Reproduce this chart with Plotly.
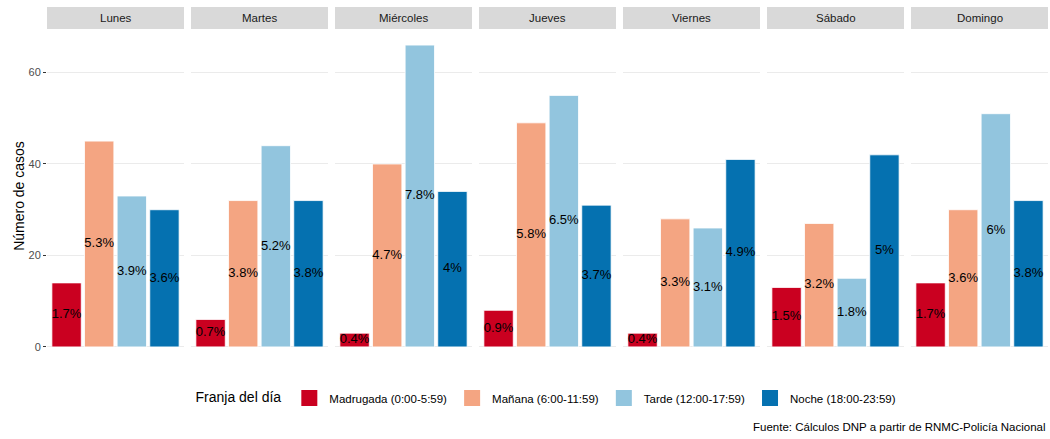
import plotly.graph_objects as go
from plotly.subplots import make_subplots

dias = ["Lunes", "Martes", "Miércoles", "Jueves", "Viernes", "Sábado", "Domingo"]
franjas = ["Madrugada (0:00-5:59)", "Mañana (6:00-11:59)", "Tarde (12:00-17:59)", "Noche (18:00-23:59)"]
colores = ["#CA0020", "#F4A582", "#92C5DE", "#0571B0"]

# casos[dia] = [madrugada, mañana, tarde, noche]
casos = {
    "Lunes":     [14, 45, 33, 30],
    "Martes":    [6, 32, 44, 32],
    "Miércoles": [3, 40, 66, 34],
    "Jueves":    [8, 49, 55, 31],
    "Viernes":   [3, 28, 26, 41],
    "Sábado":    [13, 27, 15, 42],
    "Domingo":   [14, 30, 51, 32],
}
porcentajes = {
    "Lunes":     ["1.7%", "5.3%", "3.9%", "3.6%"],
    "Martes":    ["0.7%", "3.8%", "5.2%", "3.8%"],
    "Miércoles": ["0.4%", "4.7%", "7.8%", "4%"],
    "Jueves":    ["0.9%", "5.8%", "6.5%", "3.7%"],
    "Viernes":   ["0.4%", "3.3%", "3.1%", "4.9%"],
    "Sábado":    ["1.5%", "3.2%", "1.8%", "5%"],
    "Domingo":   ["1.7%", "3.6%", "6%", "3.8%"],
}
y_ticks = [0, 20, 40, 60]

FONT = "Liberation Sans, Arial, sans-serif"
W, H = 1050, 439
ML, MR, MT, MB = 47, 2, 30, 77
plot_w = W - ML - MR
plot_h = H - MT - MB

fig = make_subplots(rows=1, cols=7, shared_yaxes=True, horizontal_spacing=7 / plot_w)

pos = [1, 2, 3, 4]
for c, dia in enumerate(dias, start=1):
    for k in range(4):
        fig.add_trace(go.Bar(
            x=[pos[k]], y=[casos[dia][k]], width=0.9,
            marker=dict(color=colores[k], line=dict(color="white", width=0.8)),
            name=franjas[k], legendgroup=franjas[k], showlegend=False,
            hoverinfo="skip",
        ), row=1, col=c)
    fig.add_trace(go.Scatter(
        x=pos, y=[v / 2 for v in casos[dia]], mode="text",
        text=porcentajes[dia], textfont=dict(size=13, color="black", family=FONT),
        showlegend=False, hoverinfo="skip",
    ), row=1, col=c)

# legend entries (square keys)
for k in range(4):
    fig.add_trace(go.Scatter(
        x=[None], y=[None], mode="markers", name=franjas[k], legendgroup=franjas[k],
        marker=dict(symbol="square", size=16, color=colores[k]),
        showlegend=True, hoverinfo="skip",
    ), row=1, col=1)

fig.update_xaxes(range=[0.4, 4.6], showticklabels=False, showgrid=False, zeroline=False,
                 ticks="", showline=False)
fig.update_yaxes(range=[-3.3, 69.3], tickvals=y_ticks, showgrid=True, gridcolor="#EBEBEB",
                 gridwidth=1, zeroline=False, showline=False)
fig.update_yaxes(ticks="outside", ticklen=3, tickcolor="#333333",
                 tickfont=dict(size=11, color="#4D4D4D", family=FONT),
                 title=dict(text="Número de casos", font=dict(size=14, color="black", family=FONT), standoff=0),
                 row=1, col=1)

shapes = []
annotations = []
for c, dia in enumerate(dias, start=1):
    xa = fig.layout["xaxis" if c == 1 else f"xaxis{c}"]
    d0, d1 = xa.domain
    shapes.append(dict(type="rect", xref="paper", yref="paper", x0=d0, x1=d1,
                       y0=1 + 1 / plot_h, y1=1 + 23 / plot_h,
                       fillcolor="#D9D9D9", line=dict(width=0), layer="below"))
    annotations.append(dict(text=dia, xref="paper", yref="paper", x=(d0 + d1) / 2,
                            y=1 + 12 / plot_h, showarrow=False, xanchor="center", yanchor="middle",
                            font=dict(size=11.5, color="#1A1A1A", family=FONT)))

annotations.append(dict(text="Fuente: Cálculos DNP a partir de RNMC-Policía Nacional",
                        xref="paper", yref="paper", x=1.0, y=(-(427 - (H - MB))) / plot_h,
                        xanchor="right", yanchor="middle", showarrow=False,
                        font=dict(size=11.5, color="black", family=FONT)))

fig.update_layout(
    width=W, height=H,
    margin=dict(l=ML, r=MR, t=MT, b=MB),
    paper_bgcolor="white", plot_bgcolor="white",
    font=dict(family=FONT),
    barmode="overlay",
    shapes=shapes, annotations=annotations,
    legend=dict(orientation="h", x=0.5, xanchor="center",
                y=(-(398 - (H - MB))) / plot_h, yanchor="middle",
                title=dict(text="Franja del día", font=dict(size=14, color="black", family=FONT), side="left"),
                font=dict(size=11.5, color="black", family=FONT),
                itemsizing="trace", traceorder="normal"),
)

fig.write_html("out.html", config={"displayModeBar": False},
               post_script="document.body.style.margin='0';")
